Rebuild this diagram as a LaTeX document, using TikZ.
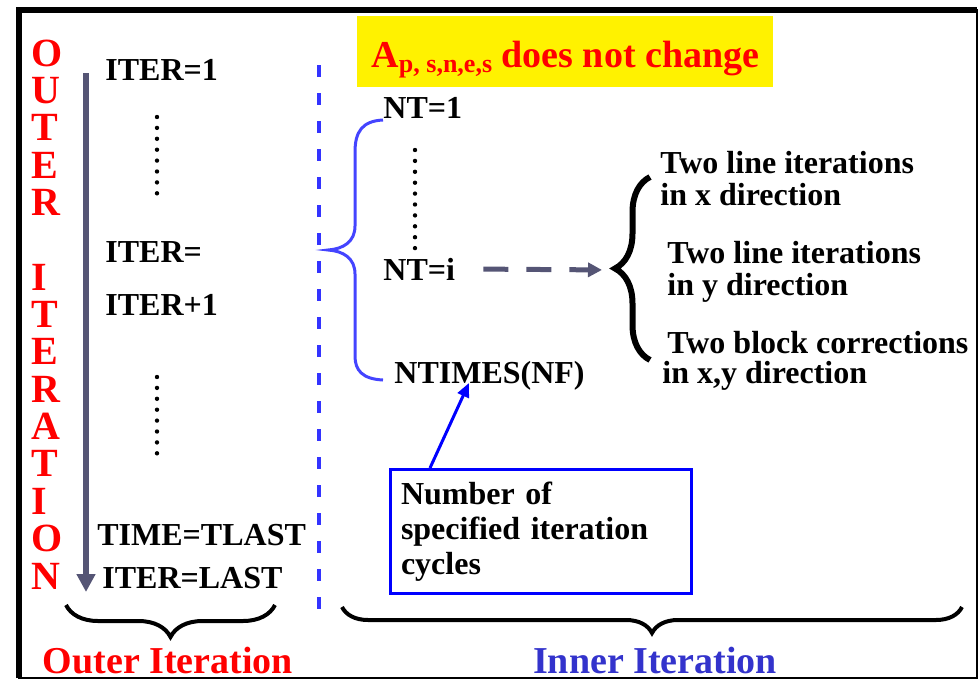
\documentclass[tikz,border=0pt]{standalone}
\usepackage{fontspec}
\setmainfont{Liberation Serif}
\usetikzlibrary{arrows.meta,decorations.pathreplacing,calc}
\definecolor{outred}{HTML}{FF0000}
\definecolor{innblue}{HTML}{3333CC}
\definecolor{sepblue}{HTML}{3333FF}
\definecolor{brblue}{HTML}{4444FF}
\definecolor{boxblue}{HTML}{0000FF}
\definecolor{arrgrey}{HTML}{555575}
\begin{document}
\begin{tikzpicture}[x=0.5pt,y=-0.5pt,
  txt/.style={anchor=base west,inner sep=0pt,font=\fontsize{16}{19}\selectfont\bfseries},
  vlet/.style={anchor=base west,inner sep=0pt,text=outred,font=\fontsize{20}{24}\selectfont\bfseries},
  lbl/.style={anchor=base,inner sep=0pt,font=\fontsize{19}{23}\selectfont\bfseries},
  bigbrace/.style={decorate,decoration={brace,amplitude=#1},line width=2pt}]
\useasboundingbox (0,0) rectangle (979,680);
% frame
\draw[line width=0.75pt] (19,10) rectangle (977,678);
\draw[line width=3pt] (19,678) -- (19,10) -- (977,10);

% outer iteration, left column
\foreach \ch/\k in {O/0,U/1,T/2,E/3,R/4,I/6,T/7,E/8,R/9,A/10,T/11,I/12,O/13,N/14}
  \node[vlet] (ol\k) at (31,66+37.36*\k) {\ch};
\coordinate (atop) at (86,73);
\coordinate (abot) at (86,592);
\draw[arrgrey,line width=3.3pt,-{Triangle[width=9pt,length=9pt]}] (atop) -- (abot);
\node[txt] (it1) at (105,80) {ITER=1};
\node[txt] (it2) at (105,262) {ITER=};
\node[txt] (it3) at (105,315) {ITER+1};
\node[txt] (tlast) at (97,545) {TIME=TLAST};
\node[txt] (ilast) at (102,588) {ITER=LAST};
\foreach \k in {0,...,7} \fill (157,117+10.9*\k) circle (1.1pt);
\foreach \k in {0,...,7} \fill (157,377+10.9*\k) circle (1.1pt);
\draw[bigbrace=16pt,decoration={mirror}] (66,605) -- (275,605);
\node[lbl,text=outred] (outlbl) at (168,673) {Outer Iteration};

% separator
\draw[sepblue,line width=2pt,dash pattern=on 6pt off 8pt] (319,65) -- (319,622);

% inner iteration
\node[fill=yellow,anchor=north west,minimum width=208pt,inner ysep=0pt,
  text height=25.5pt,text depth=10pt,text=outred,font=\fontsize{19}{23}\selectfont\bfseries]
  (anote) at (357,16) {A\raisebox{-2.5pt}{\fontsize{13}{13}\selectfont p, s,n,e,s} does not change};
\node[txt] (nt1) at (383,118) {NT=1};
\node[txt] (nti) at (383,280) {NT=i};
\node[txt] (ntimes) at (394,383) {NTIMES(NF)};
\foreach \k in {0,...,9} \fill (415,150+10.9*\k) circle (1.1pt);
\draw[brblue,line width=1.5pt] (383,120) .. controls (362,121) and (355,132) .. (355,152)
  -- (355,226) .. controls (355,242) and (343,249) .. (328,250)
  .. controls (343,251) and (355,258) .. (355,274)
  -- (355,356) .. controls (355,370) and (362,379) .. (383,380);

\coordinate (xtip) at (612,270);
\draw[arrgrey,line width=2.5pt,dash pattern=on 12.5pt off 9pt,shorten <=14pt,shorten >=5pt,
  -{Triangle[width=7pt,length=7pt]}] (nti.east) -- (xtip);
\draw[bigbrace=17.5pt,line width=3pt] (650,360) -- (650,177);
\node[txt] (r1) at (660,173) {Two line iterations};
\node[txt] (r2) at (660,205) {in x direction};
\node[txt] (r3) at (667,263) {Two line iterations};
\node[txt] (r4) at (667,295) {in y direction};
\node[txt] (r5) at (667,353) {Two block corrections};
\node[txt] (r6) at (662,383) {in x,y direction};

\node[draw=boxblue,line width=1.5pt,anchor=north west,minimum width=150.5pt,minimum height=62pt,
  text width=140pt,align=left,inner xsep=5pt,font=\fontsize{16}{17.5}\selectfont\bfseries]
  (cycbox) at (389,468) {Number of\\specified iteration\\cycles};
\draw[boxblue,line width=1.5pt,-{Triangle[width=6pt,length=7pt]}]
  ($(cycbox.north west)+(41,0)$) -- ($(ntimes.base west)+(75,0)$);

\draw[bigbrace=13pt,decoration={mirror}] (342,607) -- (962,607);
\node[lbl,text=innblue] (inlbl) at (655,673) {Inner Iteration};
\end{tikzpicture}
\end{document}
